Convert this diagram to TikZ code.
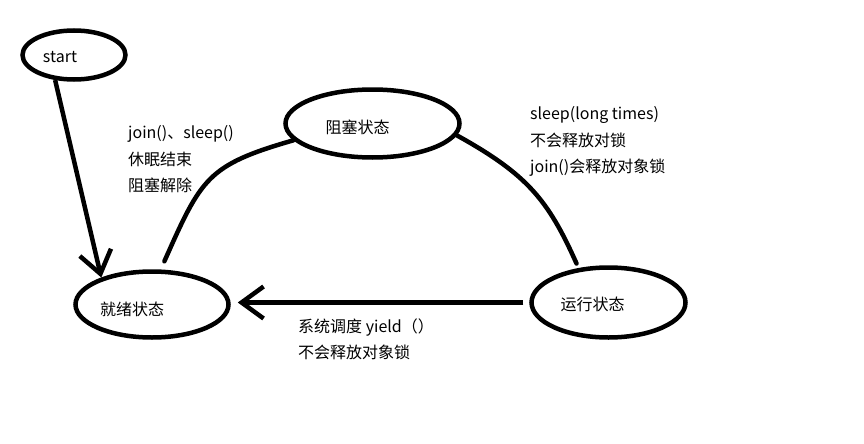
\documentclass[tikz,border=0pt]{standalone}
\usepackage{fontspec}
\setmainfont{Noto Sans CJK SC}
\usetikzlibrary{arrows.meta,shapes.geometric}

\begin{document}
\begin{tikzpicture}[x=1pt,y=-1pt,
    state/.style={ellipse,draw=black,line width=4.5pt,inner sep=0pt},
    statename/.style={font=\fontsize{16}{16}\selectfont,text=black},
    note/.style={anchor=north west,align=left,inner sep=0pt,text=black,font=\fontsize{16}{26.5}\selectfont},
    arr/.style={-{Straight Barb[length=22pt,width=32pt]},line width=4.5pt},
    link/.style={line width=4.5pt,line cap=round}]
    \useasboundingbox (0,0) rectangle (864,444);
    \node[state,minimum width=103pt,minimum height=49pt,label={[statename,xshift=-14pt,yshift=-2pt]center:start}] (start) at (74,55) {};
    \node[state,minimum width=153pt,minimum height=66pt,label={[statename,xshift=-20pt,yshift=-5pt]center:就绪状态}] (ready) at (152,304.5) {};
    \node[state,minimum width=174pt,minimum height=68pt,label={[statename,xshift=-15pt,yshift=-3.5pt]center:阻塞状态}] (block) at (372.5,123.5) {};
    \node[state,minimum width=154pt,minimum height=70pt,label={[statename,xshift=-16pt,yshift=-1.5pt]center:运行状态}] (run) at (608.5,302.5) {};
    % labels
    \node[note] (wake) at (128,125.5) {join()、sleep()\\休眠结束\\阻塞解除};
    \node[note] (sleep) at (530,106.5) {sleep(long times)\\不会释放对锁\\join()会释放对象锁};
    \node[note] (yield) at (298,318.5) {系统调度 yield（）\\不会释放对象锁};
    % connectors
    \draw[arr] (start.233) -- (ready.152);
    \draw[link,shorten <=9pt] (ready.76) .. controls +(66:100pt) and +(196:90pt) .. (block.192);
    \draw[link,shorten >=5pt] (block.-8) .. controls +(-29:80pt) and +(114:75pt) .. (run.131);
    \draw[arr,shorten <=6pt,shorten >=7pt] (run.west) -- (run.west -| ready.east);
\end{tikzpicture}
\end{document}
